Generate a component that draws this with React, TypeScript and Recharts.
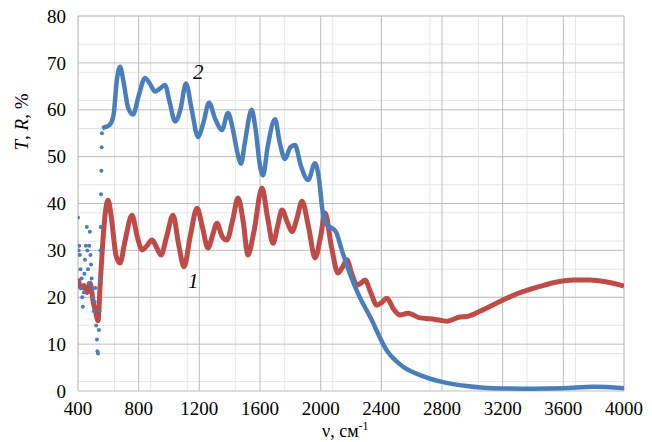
import { ComposedChart, Line, Scatter, XAxis, YAxis, CartesianGrid } from "recharts";

const xTicks = [400, 800, 1200, 1600, 2000, 2400, 2800, 3200, 3600, 4000];
const yTicks = [0, 10, 20, 30, 40, 50, 60, 70, 80];
const xMinor = Array.from({ length: 46 }, (_, i) => 400 + i * 80);
const yMinor = Array.from({ length: 41 }, (_, i) => i * 2);

// curve 2 (blue), noisy start as scattered dots
const blueNoise: [number, number][] = [
  [400, 37], [404, 30], [408, 31], [412, 29], [416, 26], [420, 22], [424, 24], [428, 20],
  [432, 18], [438, 21], [442, 25], [446, 28], [452, 31], [458, 35], [462, 30], [466, 26],
  [470, 23], [474, 31], [478, 34], [482, 29], [486, 27], [490, 24], [495, 22], [500, 20],
  [505, 17], [510, 19], [515, 22], [520, 14], [525, 11], [528, 8.5], [532, 8], [538, 13],
  [542, 17], [545, 24], [548, 30], [550, 35], [552, 42], [554, 47], [556, 52], [558, 55],
];
const blueMain: [number, number][] = [
  [560, 56], [580, 56.3], [610, 56.8], [635, 59], [655, 66], [677, 69.2], [700, 66], [730, 60.5],
  [763, 59], [800, 63], [842, 66.8], [875, 65.5], [908, 63.9], [940, 64.5], [973, 65.3], [1005, 61.5],
  [1040, 57.5], [1075, 60], [1112, 65.6], [1150, 60], [1191, 54.2], [1225, 57], [1264, 61.5],
  [1305, 58], [1349, 55.7], [1389, 59.3], [1420, 56], [1450, 51], [1475, 48.5], [1500, 53],
  [1545, 60], [1570, 56], [1600, 48], [1620, 46], [1650, 52], [1699, 58], [1730, 53], [1765, 49.5],
  [1800, 52], [1830, 52.5], [1870, 48], [1917, 45], [1963, 48.6], [1990, 45], [2010, 39],
  [2040, 35.5], [2062, 35], [2100, 34], [2140, 30], [2193, 25], [2250, 20.5], [2325, 15.9],
  [2435, 8.7], [2543, 5.2], [2655, 3.4], [2807, 1.9], [2963, 1.07], [3136, 0.6], [3400, 0.5],
  [3600, 0.6], [3800, 0.9], [4000, 0.6],
];
// curve 1 (red)
const redMain: [number, number][] = [
  [400, 24], [420, 22], [440, 22.5], [460, 21], [480, 23], [500, 19], [515, 17], [532, 15],
  [545, 22], [560, 30], [580, 38], [598, 40.7], [620, 37], [650, 29], [677, 27.3], [710, 32],
  [756, 37.5], [790, 33], [822, 30.1], [855, 31], [888, 32.2], [920, 30.5], [947, 29], [985, 33],
  [1026, 37.5], [1065, 31], [1099, 26.5], [1140, 33], [1185, 39], [1220, 35], [1257, 30.5],
  [1290, 33.5], [1316, 35.8], [1350, 33], [1382, 32.2], [1420, 36.5], [1455, 41.2], [1490, 36],
  [1520, 29], [1560, 34], [1613, 43.3], [1650, 37], [1686, 31.5], [1715, 35], [1745, 38.6],
  [1780, 36], [1811, 34], [1845, 37], [1877, 40.5], [1920, 35], [1963, 28.4], [2000, 33],
  [2029, 38], [2070, 31], [2114, 25.2], [2145, 26.5], [2173, 28], [2205, 25], [2239, 22.6],
  [2265, 23], [2292, 23.7], [2330, 21], [2371, 18.3], [2400, 18.8], [2437, 19.8], [2480, 17.5],
  [2523, 16.2], [2576, 16.6], [2655, 15.6], [2720, 15.4], [2787, 15.1], [2833, 14.9], [2919, 15.8],
  [2963, 15.9], [3050, 17], [3202, 19.4], [3300, 20.8], [3446, 22.3], [3550, 23.2], [3664, 23.7],
  [3775, 23.7], [3880, 23.3], [4000, 22.4],
];

const toPts = (a: [number, number][]) => a.map(([x, y]) => ({ x, y }));
const BLUE = "#4a7ebb";
const RED = "#be4b48";
const font = "Times New Roman, Liberation Serif, serif";

export default function App() {
  const tick = { fill: "#000", fontSize: 19, fontFamily: font, style: { fontFamily: font } };
  return (
    <div style={{ position: "absolute", left: 0, top: 0, width: 652, height: 442, background: "#fff", fontFamily: font }}>
      <ComposedChart width={652} height={442} margin={{ top: 16, right: 28, bottom: 21, left: 20 }}>
        <CartesianGrid stroke="#e4e4e4" verticalValues={xMinor} horizontalValues={yMinor} />
        <CartesianGrid stroke="#bdbdbd" verticalValues={xTicks} horizontalValues={yTicks} />
        <XAxis
          type="number"
          dataKey="x"
          domain={[400, 4000]}
          ticks={xTicks}
          axisLine={false}
          tickLine={false}
          tick={tick}
          height={30}
          tickMargin={5}
          allowDataOverflow
        />
        <YAxis
          type="number"
          dataKey="y"
          domain={[0, 80]}
          ticks={yTicks}
          axisLine={false}
          tickLine={false}
          tick={tick}
          width={58}
          tickMargin={6}
        />
        <Line data={toPts(redMain)} dataKey="y" type="monotone" stroke={RED} strokeWidth={5} dot={false} isAnimationActive={false} />
        <Line data={toPts(blueMain)} dataKey="y" type="monotone" stroke={BLUE} strokeWidth={4.5} dot={false} isAnimationActive={false} />
        <Scatter
          data={toPts(blueNoise)}
          dataKey="y"
          fill={BLUE}
          isAnimationActive={false}
          shape={(p: any) => <circle cx={p.cx} cy={p.cy} r={2} fill={BLUE} />}
        />
      </ComposedChart>
      <div style={{ position: "absolute", left: 193, top: 60, fontStyle: "italic", fontSize: 21 }}>2</div>
      <div style={{ position: "absolute", left: 188, top: 269, fontStyle: "italic", fontSize: 21 }}>1</div>
      <div
        style={{
          position: "absolute",
          left: 22,
          top: 122,
          transform: "translate(-50%, -50%) rotate(-90deg)",
          fontSize: 19,
          whiteSpace: "nowrap",
        }}
      >
        <i>T</i>, <i>R</i>, %
      </div>
      <div style={{ position: "absolute", left: 322, top: 421, fontSize: 18, lineHeight: "20px", whiteSpace: "nowrap" }}>
        ν, см<sup style={{ fontSize: 12, lineHeight: 0, verticalAlign: 7 }}>-1</sup>
      </div>
    </div>
  );
}
